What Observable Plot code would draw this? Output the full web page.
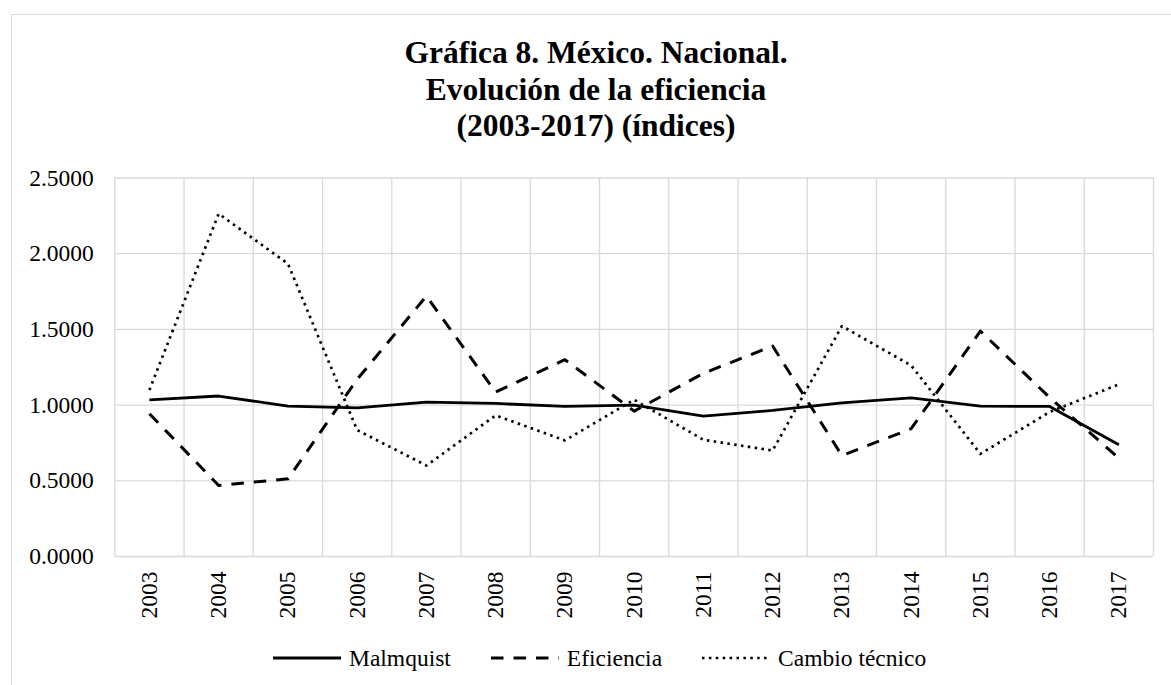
<!DOCTYPE html>
<html lang="es">
<head>
<meta charset="utf-8">
<script src="https://cdn.jsdelivr.net/npm/d3@7"></script>
<script src="https://cdn.jsdelivr.net/npm/@observablehq/plot@0.6"></script>
<style>
  html, body { margin: 0; padding: 0; background: #fff; }
  body { width: 1171px; height: 685px; position: relative; overflow: hidden;
         font-family: "Liberation Serif", "Times New Roman", serif; color: #000; }
  #frame { position: absolute; left: 10.5px; top: 14px; width: 1300px; height: 800px;
           border: 1.4px solid #d9d9d9; box-sizing: border-box; }
  #title { position: absolute; left: 0; width: 1192px; top: 35px; text-align: center;
           font-weight: bold; font-size: 31.5px; line-height: 36.5px; }
  #chart { position: absolute; left: 0; top: 150px; }
  #legend { position: absolute; left: 273px; top: 644px; height: 28px; display: flex;
            align-items: center; font-size: 23.5px; line-height: 28px; white-space: nowrap; }
  #legend .item { display: flex; align-items: center; margin-right: 40px; }
  #legend .item:last-child { margin-right: 0; }
  #legend svg { margin-right: 8px; }
</style>
</head>
<body>
<div id="frame"></div>
<div id="title">Gráfica 8. México. Nacional.<br>Evolución de la eficiencia<br>(2003-2017) (índices)</div>
<div id="chart"></div>
<div id="legend"></div>
<script>
// Years on the category axis
const years = ["2003", "2004", "2005", "2006", "2007", "2008", "2009", "2010",
               "2011", "2012", "2013", "2014", "2015", "2016", "2017"];

// Index series
const malmquist     = [1.035, 1.060, 0.993, 0.982, 1.020, 1.011, 0.991, 1.000, 0.927, 0.965, 1.015, 1.048, 0.993, 0.991, 0.738];
const eficiencia    = [0.943, 0.469, 0.513, 1.170, 1.720, 1.086, 1.300, 0.960, 1.210, 1.390, 0.667, 0.844, 1.489, 1.050, 0.650];
const cambioTecnico = [1.100, 2.264, 1.934, 0.835, 0.601, 0.932, 0.767, 1.035, 0.771, 0.700, 1.522, 1.262, 0.678, 0.954, 1.137];

// Y axis tick values
const yTicks = [0, 0.5, 1, 1.5, 2, 2.5];

// Series names and their line styles
const seriesNames = ["Malmquist", "Eficiencia", "Cambio técnico"];
const seriesValues = [malmquist, eficiencia, cambioTecnico];
const seriesStyle = [
  { strokeWidth: 2.8, strokeDasharray: null, strokeLinecap: "butt" },
  { strokeWidth: 3.0, strokeDasharray: "12.5,10", strokeLinecap: "butt" },
  { strokeWidth: 2.7, strokeDasharray: "2.5,4.4", strokeLinecap: "butt" }
];

// Category positions and the boundaries between categories (for the grid)
const idx = years.map((_, i) => i);
const boundaries = d3.range(years.length + 1).map(i => i - 0.5);

const lineMarks = seriesNames.map((name, s) =>
  Plot.line(idx.map(i => ({ i, v: seriesValues[s][i] })), {
    x: "i", y: "v", stroke: "#000",
    strokeWidth: seriesStyle[s].strokeWidth,
    strokeDasharray: seriesStyle[s].strokeDasharray,
    strokeLinecap: seriesStyle[s].strokeLinecap,
    strokeLinejoin: "round",
    curve: "linear"
  })
);

const chart = Plot.plot({
  width: 1171,
  height: 480,
  marginLeft: 114.3,
  marginRight: 18,
  marginTop: 27.5,
  marginBottom: 74,
  style: { fontFamily: "Liberation Serif, Times New Roman, serif", fontSize: "23.5px",
           color: "#000", background: "transparent", overflow: "visible" },
  x: { type: "linear", domain: [-0.5, years.length - 0.5], ticks: idx,
       tickFormat: i => years[i], tickSize: 0, tickPadding: 15, tickRotate: -90, label: null },
  y: { domain: [0, 2.5], ticks: yTicks, tickFormat: d => d.toFixed(4),
       tickSize: 0, tickPadding: 21, label: null },
  marks: [
    Plot.ruleY(yTicks, { stroke: "#d9d9d9", strokeWidth: 1.3 }),
    Plot.ruleX(boundaries, { stroke: "#d9d9d9", strokeWidth: 1.3 }),
    ...lineMarks
  ]
});
document.getElementById("chart").appendChild(chart);

// Legend with line swatches
const legend = d3.select("#legend");
seriesNames.forEach((name, s) => {
  const item = legend.append("div").attr("class", "item");
  const sw = item.append("svg").attr("width", 68).attr("height", 10);
  sw.append("line")
    .attr("x1", 0).attr("x2", 68).attr("y1", 5).attr("y2", 5)
    .attr("stroke", "#000")
    .attr("stroke-width", seriesStyle[s].strokeWidth)
    .attr("stroke-dasharray", seriesStyle[s].strokeDasharray)
    .attr("stroke-linecap", seriesStyle[s].strokeLinecap);
  item.append("span").text(name);
});
</script>
</body>
</html>
